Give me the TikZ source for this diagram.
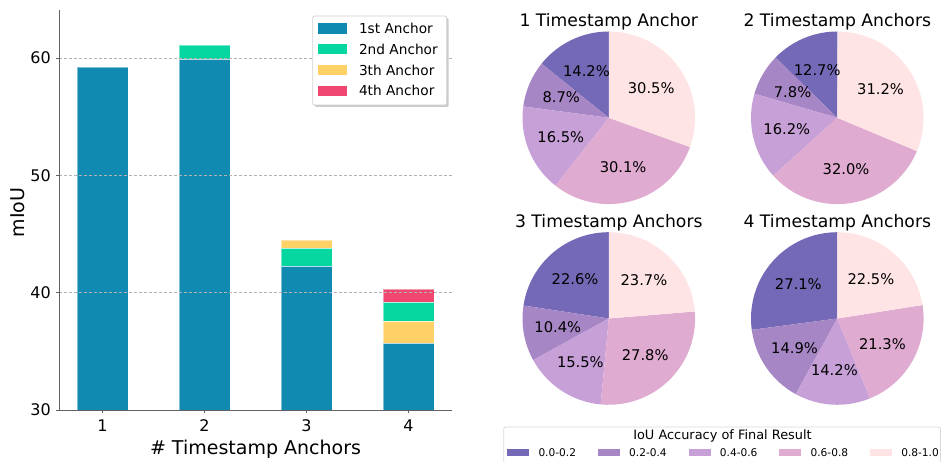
\documentclass[tikz,border=0pt]{standalone}
\usepackage{fontspec}
\setmainfont{DejaVu Sans}
\definecolor{anchorblue}{HTML}{118AB2}
\definecolor{anchorgreen}{HTML}{06D6A0}
\definecolor{anchoryellow}{HTML}{FFD166}
\definecolor{anchorred}{HTML}{EF476F}
\definecolor{ioua}{HTML}{7469B6}
\definecolor{ioub}{HTML}{A686C4}
\definecolor{iouc}{HTML}{C7A0D8}
\definecolor{ioud}{HTML}{E0ABD0}
\definecolor{ioue}{HTML}{FFE4E6}
\usetikzlibrary{shadows}

% one pie: centre, title, slices (percent/colour), counter-clockwise from 12 o'clock
\newcommand{\accpie}[3]{%
  \begin{scope}[shift={(#1)}]
    \gdef\piestart{90}%
    \foreach \v/\col in {#3}{%
      \pgfmathsetmacro\pieend{\piestart+3.6*\v}%
      \fill[\col] (0,0) -- (\piestart:86.3) arc[start angle=\piestart, end angle=\pieend, radius=86.3] -- cycle;
      \global\let\piestart\pieend
    }
    \gdef\piestart{90}%
    \foreach \v/\col [count=\n] in {#3}{%
      \pgfmathsetmacro\pieend{\piestart+3.6*\v}%
      \pgfmathsetmacro\piemid{(\piestart+\pieend)/2}%
      \node[pct] (#1s\n) at (\piemid:51.8) {\v\%};
      \global\let\piestart\pieend
    }
    \node[pietitle] (#1t) at (0,91.3) {#2};
  \end{scope}}

\begin{document}
\begin{tikzpicture}[
  x=1pt, y=1pt,
  barseg/.style={fill=#1, draw=white, draw opacity=0.45, line width=0.3pt},
  gridline/.style={draw=black!30, dash pattern=on 3pt off 2pt, line width=0.6pt},
  spine/.style={draw=black!62, line width=0.9pt},
  ticklbl/.style={font=\fontsize{16}{16}\selectfont, inner sep=0pt},
  axlbl/.style={font=\fontsize{19}{19}\selectfont, inner sep=0pt, anchor=base},
  legbox/.style={draw=black!18, fill=white, rounded corners=2pt, line width=0.8pt, inner sep=0pt,
    drop shadow={shadow xshift=2pt, shadow yshift=-2pt, fill=black!40, opacity=0.5}},
  legpatch/.style={fill=#1, minimum width=29pt, minimum height=10.3pt, inner sep=0pt},
  legtxt/.style={font=\fontsize{13.7}{14}\selectfont, inner sep=0pt, anchor=west},
  pietitle/.style={font=\fontsize{17.2}{18}\selectfont, inner sep=0pt, anchor=base},
  pct/.style={font=\fontsize{14.7}{15}\selectfont, inner sep=0pt},
  keybox/.style={draw=black!15, fill=white, rounded corners=2pt, line width=0.8pt, inner sep=0pt},
  keypatch/.style={fill=#1, minimum width=22pt, minimum height=7.4pt, inner sep=0pt},
  keytxt/.style={font=\fontsize{10.6}{11}\selectfont, inner sep=0pt, anchor=base west}
]
  \clip (0,0) rectangle (943,462);

  % Stacked bars, heights in mIoU above 30
  \begin{scope}[shift={(0pt,52pt)}, y=11.73pt]
    \path[barseg=anchorblue] (77,0) rectangle (128,29.27);
    \path[barseg=anchorblue] (179,0) rectangle (230,29.9);
    \path[barseg=anchorgreen] (179,29.9) rectangle (230,31.1);
    \path[barseg=anchorblue] (281,0) rectangle (332,12.3);
    \path[barseg=anchorgreen] (281,12.3) rectangle (332,13.8);
    \path[barseg=anchoryellow] (281,13.8) rectangle (332,14.5);
    \path[barseg=anchorblue] (383,0) rectangle (434,5.7);
    \path[barseg=anchoryellow] (383,5.7) rectangle (434,7.6);
    \path[barseg=anchorgreen] (383,7.6) rectangle (434,9.2);
    \path[barseg=anchorred] (383,9.2) rectangle (434,10.3);

    % grid and axes
    \foreach \g in {10,20,30} \draw[gridline] (59,\g) -- (452,\g);
    \coordinate (origin) at (59,0);
    \draw[spine] (59,34.1) -- (origin) -- (452,0);
    \foreach \g/\lbl in {0/30,10/40,20/50,30/60}{
      \draw[spine] (59,\g) -- ++(-3.5pt,0);
      \node[ticklbl, anchor=east] (ytick\lbl) at (51,\g) {\lbl};
    }
    \foreach \i/\cx in {1/102.5,2/204.5,3/306.5,4/408.5}{
      \draw[spine] (\cx,0) -- ++(0,-3.5pt);
      \node[ticklbl, anchor=base] (xtick\i) at (\cx pt,-21.7pt) {\i};
    }
  \end{scope}

  \node[axlbl] (xlabel) at (255.5,7) {\# Timestamp Anchors};
  \node[axlbl, rotate=90] (ylabel) at (24,249.5) {mIoU};

  % Bar legend
  \node[legbox, minimum width=134pt, minimum height=89pt] (barkey) at (379.7,401.5) {};
  \foreach \lbl/\col/\yy [count=\n] in {1st Anchor/anchorblue/433.5, 2nd Anchor/anchorgreen/412.7,
      3th Anchor/anchoryellow/391.8, 4th Anchor/anchorred/371.2}{
    \node[legpatch=\col] (keyp\n) at (332.5,\yy) {};
    \node[legtxt] (keyt\n) at (358.8,\yy) {\lbl};
  }

  % Pies
  \coordinate (pieA) at (608.8,344.2);
  \coordinate (pieB) at (837.3,344.2);
  \coordinate (pieC) at (608.8,143.5);
  \coordinate (pieD) at (837.3,143.5);
  \accpie{pieA}{1 Timestamp Anchor}{14.2/ioua, 8.7/ioub, 16.5/iouc, 30.1/ioud, 30.5/ioue}
  \accpie{pieB}{2 Timestamp Anchors}{12.7/ioua, 7.8/ioub, 16.2/iouc, 32.0/ioud, 31.2/ioue}
  \accpie{pieC}{3 Timestamp Anchors}{22.6/ioua, 10.4/ioub, 15.5/iouc, 27.8/ioud, 23.7/ioue}
  \accpie{pieD}{4 Timestamp Anchors}{27.1/ioua, 14.9/ioub, 14.2/iouc, 21.3/ioud, 22.5/ioue}

  % Shared pie legend
  \node[keybox, minimum width=436.7pt, minimum height=45pt, anchor=north west] (ioukey) at (503.3,35.3) {};
  \node[font=\fontsize{12.9}{13}\selectfont, inner sep=0pt, anchor=base] (ioutitle) at (722.5,22) {IoU Accuracy of Final Result};
  \foreach \lbl/\col [count=\n] in {0.0-0.2/ioua, 0.2-0.4/ioub, 0.4-0.6/iouc, 0.6-0.8/ioud, 0.8-1.0/ioue}{
    \node[keypatch=\col] (ioup\n) at ({518.3+90.7*(\n-1)},9.5) {};
    \node[keytxt] (iout\n) at ({538.3+90.7*(\n-1)},5.5) {\lbl};
  }
\end{tikzpicture}
\end{document}
